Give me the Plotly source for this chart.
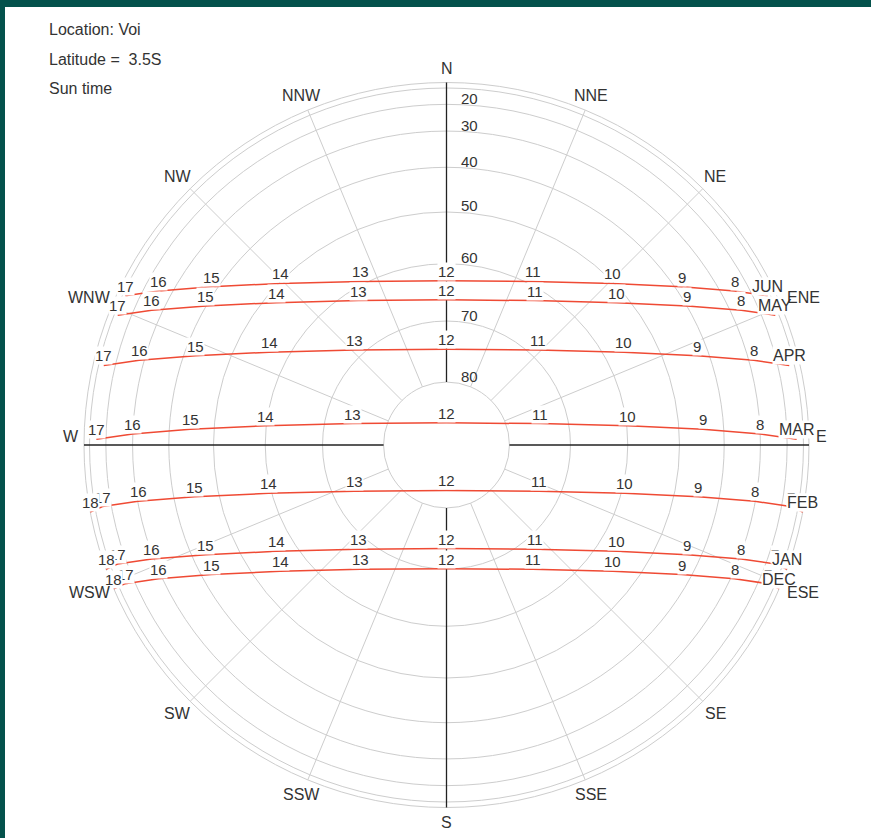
import numpy as np
import plotly.graph_objects as go

# ---------------- data ----------------
location = "Voi"
latitude_deg = -3.5                      # 3.5S
months = ["JUN", "MAY", "APR", "MAR", "FEB", "JAN", "DEC"]
declination_deg = [23.44, 20.1, 11.8, 0.0, -10.7, -20.1, -23.44]
first_hour = [7, 7, 7, 7, 6, 6, 6]       # first sun-time hour drawn per month
last_hour = [17, 17, 17, 17, 18, 18, 18]  # last sun-time hour drawn per month
ring_altitudes = [0, 10, 20, 30, 40, 50, 60, 70, 80]
ring_label_altitudes = [20, 30, 40, 50, 60, 70, 80]
compass_points = ["N", "NNE", "NE", "ENE", "E", "ESE", "SE", "SSE",
                  "S", "SSW", "SW", "WSW", "W", "WNW", "NW", "NNW"]
compass_azimuths = [0, 22.5, 45, 67.5, 90, 112.5, 135, 157.5,
                    180, 202.5, 225, 247.5, 270, 292.5, 315, 337.5]

# ---------------- layout geometry ----------------
W, H = 871, 838
ML, MT = 5, 7
CX, CY, R = 446.5, 445.0, 362.5          # centre / horizon radius in pixels

TEXT = "#333333"
GRID = "#cdcdcd"
AXIS = "#222222"
RED = "#ef4a34"
FONT = "Arial, Liberation Sans, sans-serif"


def px_x(px):
    return (px - CX) / R


def px_y(py):
    return (CY - py) / R


def sun_xy(dec, hour):
    """orthographic (r = cos altitude) projection of sun position"""
    phi = np.radians(latitude_deg)
    d = np.radians(dec)
    h = np.radians(15.0 * (hour - 12))
    east = -np.cos(d) * np.sin(h)
    north = np.cos(phi) * np.sin(d) - np.sin(phi) * np.cos(d) * np.cos(h)
    return east, north


fig = go.Figure()
shapes = []
annotations = []

# altitude rings
for alt in ring_altitudes:
    r = np.cos(np.radians(alt))
    shapes.append(dict(type="circle", xref="x", yref="y", x0=-r, x1=r, y0=-r, y1=r,
                       line=dict(color=GRID, width=1), layer="below"))

# azimuth lines
r_in = np.cos(np.radians(80))
for az in compass_azimuths:
    a = np.radians(az)
    cardinal = az % 90 == 0
    shapes.append(dict(type="line", xref="x", yref="y",
                       x0=r_in * np.sin(a), y0=r_in * np.cos(a),
                       x1=np.sin(a), y1=np.cos(a),
                       line=dict(color=AXIS if cardinal else GRID, width=1.3 if cardinal else 1),
                       layer="below"))

# sun paths
for m, dec, h0, h1 in zip(months, declination_deg, first_hour, last_hour):
    hours = list(range(h0, h1 + 1))
    xs, ys = zip(*[sun_xy(dec, h) for h in hours])
    fig.add_trace(go.Scatter(x=xs, y=ys, mode="lines", line=dict(color=RED, width=1.5),
                             hoverinfo="skip", showlegend=False))

# hour labels then month label (month label drawn on top)
for m, dec, h0, h1 in zip(months, declination_deg, first_hour, last_hour):
    for h in range(h0, h1 + 1):
        x, y = sun_xy(dec, h)
        annotations.append(dict(x=x, y=y, xref="x", yref="y", text=str(h), showarrow=False,
                                xanchor="center", yanchor="bottom", bgcolor="white",
                                borderpad=0, font=dict(size=15, color=TEXT, family=FONT)))
    x, y = sun_xy(dec, h0)
    annotations.append(dict(x=x, y=y, xref="x", yref="y", text=m, showarrow=False,
                            xanchor="center", yanchor="bottom", bgcolor="white",
                            borderpad=0, font=dict(size=16, color=TEXT, family=FONT)))

# altitude ring labels along north axis
for alt in ring_label_altitudes:
    annotations.append(dict(x=px_x(459), y=np.cos(np.radians(alt)), xref="x", yref="y",
                            text=str(alt), showarrow=False, xanchor="left", yanchor="middle",
                            yshift=6, font=dict(size=15, color=TEXT, family=FONT)))

# compass labels
for name, az in zip(compass_points, compass_azimuths):
    a = np.radians(az)
    w = 10.5 * len(name)
    hgt = 14
    rr = (370 + w / 2 * np.sin(a) ** 2 + hgt / 2 * abs(np.cos(a))) / R
    ys = 9 if az in (90, 270) else 0
    annotations.append(dict(x=rr * np.sin(a), y=rr * np.cos(a), xref="x", yref="y",
                            text=name, showarrow=False, xanchor="center", yanchor="middle",
                            yshift=ys, font=dict(size=16, color=TEXT, family=FONT)))

# header text
header = ["Location: " + location, "Latitude =\u00a0 3.5S", "Sun time"]
header_y = [29, 59, 88]
for t, py in zip(header, header_y):
    annotations.append(dict(x=px_x(47), y=px_y(py), xref="x", yref="y", text=t,
                            showarrow=False, xanchor="left", yanchor="middle",
                            font=dict(size=16, color=TEXT, family=FONT)))

fig.update_layout(
    width=W, height=H,
    margin=dict(l=ML, t=MT, r=0, b=0, pad=0),
    paper_bgcolor="#04524c",
    plot_bgcolor="white",
    shapes=shapes,
    annotations=annotations,
    showlegend=False,
    xaxis=dict(range=[px_x(ML), px_x(W)], visible=False, fixedrange=True),
    yaxis=dict(range=[px_y(H), px_y(MT)], visible=False, fixedrange=True),
)

fig.write_html("out.html", config={"displayModeBar": False},
               post_script="document.body.style.margin='0';document.body.style.overflow='hidden';")
